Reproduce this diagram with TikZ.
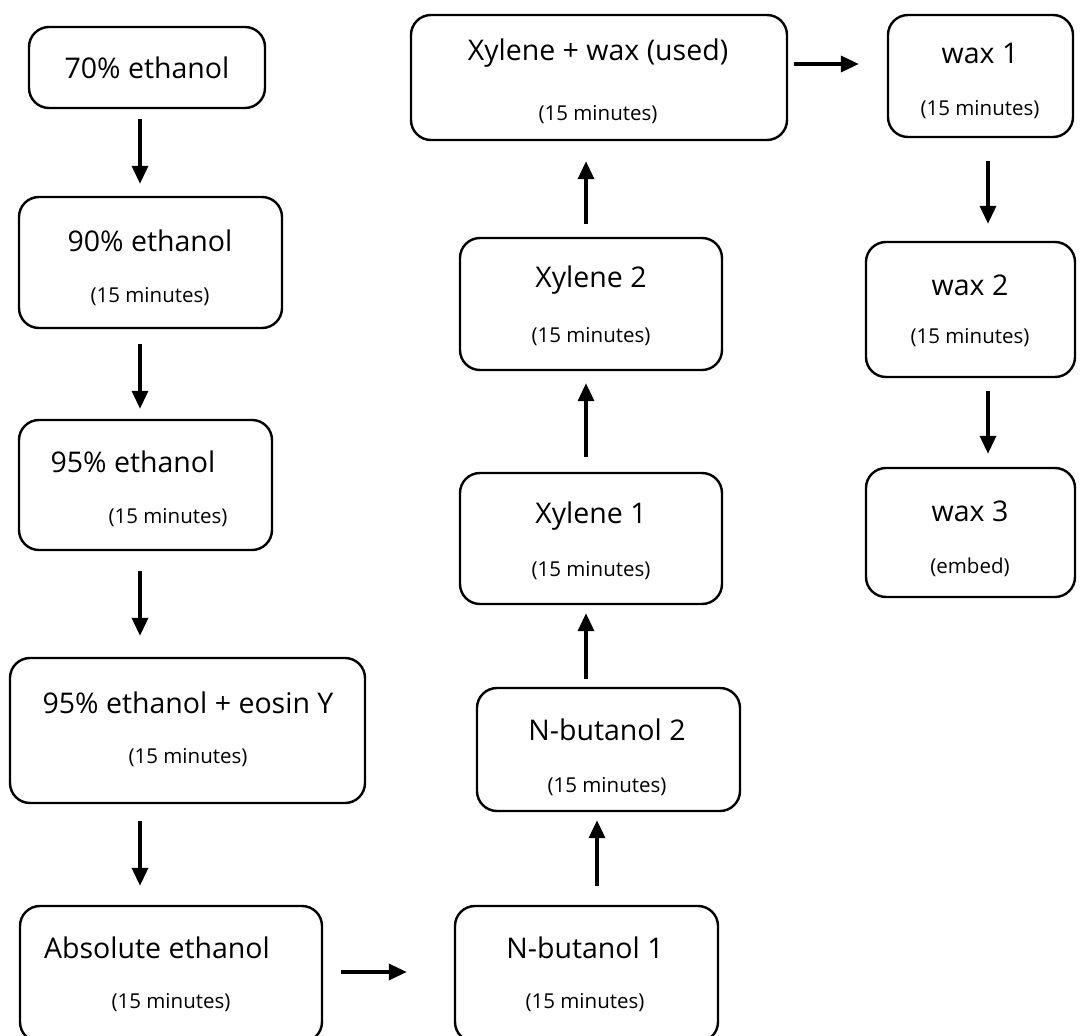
\documentclass[tikz,border=0pt]{standalone}
\usepackage{fontspec}
\setmainfont{Open Sans}
\usetikzlibrary{arrows.meta}
\tikzset{
  box/.style={draw, line width=2.4pt, rounded corners=20pt, inner sep=0pt, fill=white},
  ttl/.style={font=\fontsize{28.5}{31}\selectfont, inner sep=0pt, anchor=center},
  sub/.style={font=\fontsize{20.5}{23}\selectfont, inner sep=0pt, anchor=center},
  arr/.style={line width=3.4pt, -{Triangle[length=18pt,width=16pt]}}
}
\newcommand{\mybox}[5]{% name, x1, y1, x2, y2
  \node[box, minimum width=#4pt-#2pt, minimum height=#5pt-#3pt] (#1) at ({(#2+#4)/2},{(#3+#5)/2}) {};}
\begin{document}
\begin{tikzpicture}[x=1pt,y=-1pt]
\useasboundingbox[fill=white] (0,0) rectangle (1080,1036);
% left column
\mybox{a70}{29}{27}{265}{108}
\node[ttl] (a70t) at (147,68) {70\% ethanol};
\mybox{e90}{19}{197}{282}{328}
\node[ttl] (e90t) at (150,241) {90\% ethanol};
\node[sub] (e90s) at (150,297) {(15 minutes)};
\mybox{e95}{19}{420}{272}{550}
\node[ttl] (e95t) at (133,462) {95\% ethanol};
\node[sub] (e95s) at (168,518) {(15 minutes)};
\mybox{eos}{10}{658}{365}{803}
\node[ttl] (eost) at (188,703) {95\% ethanol + eosin Y};
\node[sub] (eoss) at (188,758) {(15 minutes)};
\mybox{abs}{20}{906}{322}{1042}
\node[ttl] (abst) at (157,948) {Absolute ethanol};
\node[sub] (abss) at (171,1003) {(15 minutes)};
% middle column
\mybox{nb1}{455}{906}{718}{1042}
\node[ttl] (nb1t) at (585,948) {N-butanol 1};
\node[sub] (nb1s) at (585,1003) {(15 minutes)};
\mybox{nb2}{477}{688}{740}{811}
\node[ttl] (nb2t) at (607,730) {N-butanol 2};
\node[sub] (nb2s) at (607,787) {(15 minutes)};
\mybox{xy1}{460}{473}{722}{604}
\node[ttl] (xy1t) at (591,516) {Xylene 1};
\node[sub] (xy1s) at (591,571) {(15 minutes)};
\mybox{xy2}{460}{238}{722}{370}
\node[ttl] (xy2t) at (591,280) {Xylene 2};
\node[sub] (xy2s) at (591,337) {(15 minutes)};
\mybox{xw}{411}{15}{787}{140}
\node[ttl] (xwt) at (598,53) {Xylene + wax (used)};
\node[sub] (xws) at (598,115) {(15 minutes)};
% right column
\mybox{w1}{888}{15}{1073}{137}
\node[ttl] (w1t) at (980,53) {wax 1};
\node[sub] (w1s) at (980,110) {(15 minutes)};
\mybox{w2}{866}{242}{1075}{377}
\node[ttl] (w2t) at (970,285) {wax 2};
\node[sub] (w2s) at (970,338) {(15 minutes)};
\mybox{w3}{866}{468}{1075}{597}
\node[ttl] (w3t) at (970,511) {wax 3};
\node[sub] (w3s) at (970,567) {(embed)};
% connectors
\draw[arr, shorten <=10pt, shorten >=12pt] (a70.south -| 140,0) -- (e90.north -| 140,0);
\draw[arr, shorten <=15pt, shorten >=10pt] (e90.south -| 140,0) -- (e95.north -| 140,0);
\draw[arr, shorten <=20pt, shorten >=21pt] (e95.south -| 140,0) -- (eos.north -| 140,0);
\draw[arr, shorten <=17pt, shorten >=19pt] (eos.south -| 140,0) -- (abs.north -| 140,0);
\draw[arr, shorten <=18pt, shorten >=47pt] (abs.east |- 0,972) -- (nb1.west |- 0,972);
\draw[arr, shorten <=19pt, shorten >=8pt] (nb1.north -| 597,0) -- (nb2.south -| 597,0);
\draw[arr, shorten <=8pt, shorten >=8pt] (nb2.north -| 586,0) -- (xy1.south -| 586,0);
\draw[arr, shorten <=15pt, shorten >=12pt] (xy1.north -| 586,0) -- (xy2.south -| 586,0);
\draw[arr, shorten <=13pt, shorten >=20pt] (xy2.north -| 586,0) -- (xw.south -| 586,0);
\draw[arr, shorten <=6pt, shorten >=28pt] (xw.east |- 0,64) -- (w1.west |- 0,64);
\draw[arr, shorten <=23pt, shorten >=17pt] (w1.south -| 988,0) -- (w2.north -| 988,0);
\draw[arr, shorten <=13pt, shorten >=13pt] (w2.south -| 988,0) -- (w3.north -| 988,0);
\end{tikzpicture}
\end{document}
